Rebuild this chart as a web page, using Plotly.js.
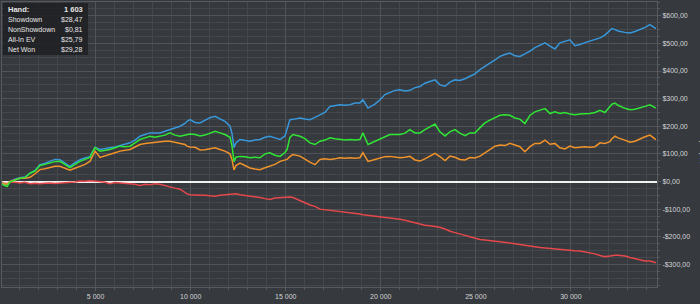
<!DOCTYPE html>
<html>
<head>
<meta charset="utf-8">
<script src="https://cdn.plot.ly/plotly-3.0.1.min.js"></script>
<style>
html,body{margin:0;padding:0;background:#36393d;}
#chart{width:700px;height:304px;}
</style>
</head>
<body>
<div id="chart"></div>
<script>
// Hands played (x)
const hands = [0,130,340,490,760,1020,1280,1550,1810,2070,2340,2600,2860,3120,3390,3650,3910,4180,4440,4700,4860,4970,5230,5490,5750,6020,6280,6540,6810,7070,7330,7600,7860,8120,8380,8650,8910,9170,9440,9700,9810,9960,10230,10490,10750,11010,11280,11540,11800,12070,12170,12280,12380,12590,12860,13120,13380,13640,13910,14170,14430,14700,14960,15070,15220,15380,15750,16010,16270,16540,16800,17060,17330,17590,17850,18120,18380,18640,18900,19060,19330,19690,19960,20220,20480,20750,21010,21270,21530,21800,22060,22320,22590,22850,23110,23380,23640,23900,24160,24430,24690,24950,25220,25480,25740,26010,26270,26530,26790,27060,27320,27580,27850,28110,28370,28640,28900,29160,29420,29690,29950,30210,30480,30740,31000,31270,31530,31790,32050,32160,32320,32480,32840,33110,33370,33630,33900,34160,34320,34470];

// All-In EV (blue)
const allInEV = [0,-10,-12,0,8,14,16,30,40,61,66,73,80,79,68,55,68,79,85,90,110,123,116,118,122,125,130,135,140,150,164,170,176,176,176,182,188,195,200,210,218,224,214,212,222,231,236,228,218,200,175,123,140,152,150,146,150,152,160,164,158,152,165,188,224,225,230,226,224,232,242,250,272,275,278,276,278,284,284,296,266,280,296,315,322,330,332,328,330,340,344,356,362,368,350,345,360,368,366,372,381,390,405,418,429,440,453,460,465,455,453,462,472,485,494,502,490,480,502,508,513,492,496,503,509,514,520,530,545,554,550,545,540,538,543,549,558,568,562,554];

// Net Won (green)
const netWon = [-3,-12,-18,-2,5,12,14,30,38,58,62,68,72,73,62,50,62,73,80,87,110,123,110,112,116,122,128,126,128,140,152,158,164,160,164,168,176,168,164,168,170,172,170,165,168,176,182,176,170,160,130,72,88,91,90,86,88,86,100,104,95,91,105,116,160,170,164,155,140,134,146,150,158,155,152,150,152,150,152,176,134,145,152,160,170,170,170,175,188,176,176,188,198,208,180,165,180,188,175,166,176,176,195,212,222,232,240,242,240,230,226,210,240,252,258,264,246,252,246,250,244,242,244,244,246,250,258,250,270,280,284,276,265,260,262,266,272,278,272,266];

// Showdown (orange)
const showdown = [-2,-8,-10,0,6,12,12,15,28,43,46,50,55,55,48,41,48,55,62,73,95,110,87,92,98,104,110,112,116,125,134,138,140,142,146,146,146,142,140,134,128,125,124,114,115,118,122,116,110,100,80,42,58,67,58,49,45,43,50,55,62,73,76,80,90,98,92,80,70,61,80,82,80,82,86,84,86,84,86,104,73,80,86,90,91,88,86,88,91,78,74,82,92,102,90,76,92,88,80,78,87,85,92,104,118,128,132,130,138,132,126,108,126,138,138,150,135,138,122,118,128,122,124,126,124,126,140,138,144,155,164,158,150,142,146,155,162,168,160,152];

// Non-Showdown (red)
const nonShowdown = [0,-5,-8,-3,-3,-5,-3,-8,-6,-8,-6,-5,-7,-6,-4,-5,-2,2,1,3,2,3,0,-3,-8,-4,-5,-6,-8,-10,-14,-10,-12,-8,-10,-15,-22,-24,-28,-40,-45,-48,-50,-50,-50,-52,-53,-50,-48,-46,-45,-45,-44,-48,-50,-53,-55,-58,-62,-65,-60,-58,-56,-55,-56,-58,-68,-77,-85,-90,-100,-102,-104,-106,-108,-110,-112,-115,-118,-120,-122,-125,-127,-130,-132,-135,-137,-140,-145,-150,-155,-158,-160,-162,-166,-172,-180,-185,-191,-195,-200,-205,-210,-212,-214,-216,-217,-220,-222,-225,-228,-230,-232,-236,-239,-241,-244,-245,-246,-248,-250,-251,-252,-255,-260,-262,-268,-272,-270,-268,-267,-267,-270,-275,-280,-285,-288,-288,-291,-294];

// Axis ticks
const xTickVals = [5000,10000,15000,20000,25000,30000];
const xTickText = ['5 000','10 000','15 000','20 000','25 000','30 000'];
const yTickVals = [-300,-200,-100,0,100,200,300,400,500,600];
const yTickText = ['-$300,00','-$200,00','-$100,00','$0,00','$100,00','$200,00','$300,00','$400,00','$500,00','$600,00'];
const yTitle = 'Winnings';

// Stat box
const statLabels = ['Hand:','Showdown','NonShowdown','All-In EV','Net Won'];
const statValues = ['1 603','$28,47','$0,81','$25,79','$29,28'];

const FONT = 'Liberation Sans, Arial, sans-serif';
const txt = '#d4d6d8';

function line(y, color, name){
  return {x: hands, y: y, type:'scatter', mode:'lines', name: name,
    line:{color: color, width:1.5}, hoverinfo:'skip'};
}

const traces = [
  line(nonShowdown, '#e5484b', 'Non-Showdown'),
  line(allInEV, '#3898dc', 'All-In EV'),
  line(showdown, '#f0932b', 'Showdown'),
  line(netWon, '#2fe634', 'Net Won')
];

const rowY = [0.972, 0.937, 0.902, 0.868, 0.834];
const annotations = [];
statLabels.forEach((l,i)=>{
  annotations.push({xref:'paper', yref:'paper', x:0.0065, y:rowY[i], xanchor:'left', yanchor:'middle',
    text: i===0 ? '<b>'+l+'</b>' : l, showarrow:false, font:{family:FONT, size: i===0?7.5:7, color:'#e6e6e6'}});
  annotations.push({xref:'paper', yref:'paper', x:0.1265, y:rowY[i], xanchor:'right', yanchor:'middle',
    text: i===0 ? '<b>'+statValues[i]+'</b>' : statValues[i], showarrow:false, font:{family:FONT, size: i===0?7.5:7, color:'#e6e6e6'}});
});
// y-axis title, mostly beyond the right edge as in the reference
annotations.push({xref:'paper', yref:'paper', x:1.0695, y:0.5, xanchor:'center', yanchor:'middle',
  textangle:-90, text:yTitle, showarrow:false, font:{family:FONT, size:9, color:txt}});

const layout = {
  width:700, height:304,
  margin:{l:2, r:43, t:2, b:17},
  paper_bgcolor:'#36393d',
  plot_bgcolor:'#36393d',
  showlegend:false,
  font:{family:FONT, size:7, color:txt},
  xaxis:{
    range:[74, 34530],
    tickvals:xTickVals, ticktext:xTickText,
    showgrid:true, gridcolor:'#505357', gridwidth:1,
    minor:{dtick:1000, tick0:0, showgrid:true, gridcolor:'#44474b', ticks:'outside', ticklen:2, tickcolor:'#55585c'},
    ticks:'outside', ticklen:3, tickcolor:'#55585c',
    showline:true, linecolor:'#575a5e', linewidth:1, mirror:true,
    zeroline:false,
    tickfont:{family:FONT, size:7, color:txt}
  },
  yaxis:{
    side:'right',
    range:[-382, 650],
    tickvals:yTickVals, ticktext:yTickText,
    showgrid:true, gridcolor:'#505357', gridwidth:1,
    minor:{dtick:25, tick0:0, showgrid:true, gridcolor:'#44474b', ticks:'outside', ticklen:2, tickcolor:'#55585c'},
    ticks:'outside', ticklen:3, tickcolor:'#55585c',
    showline:true, linecolor:'#575a5e', linewidth:1, mirror:true,
    zeroline:true, zerolinecolor:'#f2f2f2', zerolinewidth:2,
    tickfont:{family:FONT, size:7, color:txt}
  },
  shapes:[{type:'rect', xref:'paper', yref:'paper', x0:0.0015, x1:0.1313, y0:0.814, y1:0.9965,
    fillcolor:'rgba(30,32,35,0.85)', line:{width:0}, layer:'above'}],
  annotations: annotations
};

Plotly.newPlot('chart', traces, layout, {staticPlot:true, displayModeBar:false});
</script>
</body>
</html>
